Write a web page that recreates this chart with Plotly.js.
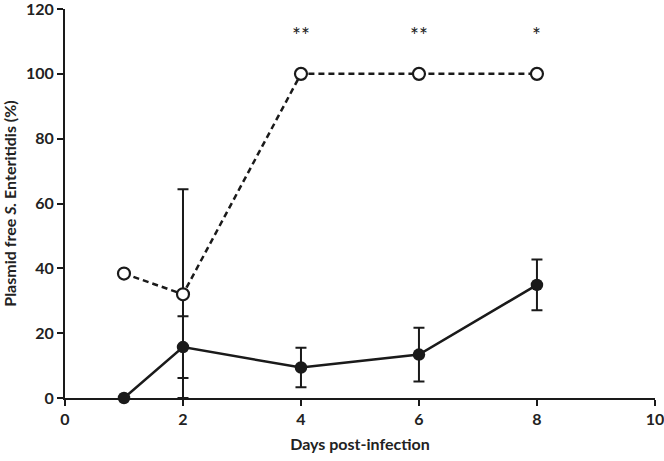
<!DOCTYPE html>
<html>
<head>
<meta charset="utf-8">
<script src="https://cdn.plot.ly/plotly-3.0.1.min.js"></script>
<style>html,body{margin:0;padding:0;background:#fff;}#chart{width:664px;height:461px;}</style>
</head>
<body>
<div id="chart"></div>
<script>
// Data
const daysFilled = [1, 2, 4, 6, 8];
const filledValues = [0, 15.7, 9.4, 13.4, 34.9];
const filledErr = [0, 9.5, 6.1, 8.3, 7.8];

const daysOpen = [1, 2, 4, 6, 8];
const openValues = [38.4, 32.0, 100, 100, 100];
const openErrPlus = [0, 32.4, 0, 0, 0];
const openErrMinus = [0, 32.0, 0, 0, 0];

const sigDays = [4, 6, 8];
const sigLabels = ['**', '**', '*'];
const sigLevel = 112;

const xTicks = [0, 2, 4, 6, 8, 10];
const yTicks = [0, 20, 40, 60, 80, 100, 120];

const font = 'Lato, "Open Sans", sans-serif';

const traces = [
  {
    x: daysOpen, y: openValues, type: 'scatter', mode: 'lines+markers',
    line: {color: '#1a1a1a', width: 2.5, dash: '6px,4px'},
    marker: {symbol: 'circle', size: 12, color: '#ffffff', line: {color: '#1a1a1a', width: 2.2}},
    error_y: {type: 'data', symmetric: false, array: openErrPlus, arrayminus: openErrMinus,
              color: '#1a1a1a', thickness: 2, width: 5.5},
    showlegend: false, cliponaxis: false
  },
  {
    x: daysFilled, y: filledValues, type: 'scatter', mode: 'lines+markers',
    line: {color: '#1a1a1a', width: 2.5},
    marker: {symbol: 'circle', size: 12.5, color: '#1a1a1a'},
    error_y: {type: 'data', array: filledErr, color: '#1a1a1a', thickness: 2, width: 5.5},
    showlegend: false, cliponaxis: false
  }
];

const annotations = sigDays.map((d, i) => ({
  x: d, y: sigLevel, xref: 'x', yref: 'y', text: sigLabels[i], showarrow: false,
  font: {family: font, size: 21, color: '#222'}
}));

const layout = {
  width: 664, height: 461,
  margin: {l: 65, r: 9, t: 9, b: 63},
  paper_bgcolor: '#fff', plot_bgcolor: '#fff',
  font: {family: font, color: '#222'},
  xaxis: {
    range: [0, 10.001], tickvals: xTicks, ticktext: xTicks.map(v => '<b>' + v + '</b>'),
    showgrid: false, zeroline: false, showline: true, linecolor: '#1a1a1a', linewidth: 2,
    ticks: 'outside', ticklen: 6, tickwidth: 2, tickcolor: '#1a1a1a',
    ticklabeloverflow: 'allow', automargin: false,
    tickfont: {family: font, size: 16, color: '#222'},
    title: {text: '<b>Days post-infection</b>', font: {family: font, size: 16, color: '#222'}, standoff: 12}
  },
  yaxis: {
    range: [0, 120.01], tickvals: yTicks, ticktext: yTicks.map(v => '<b>' + v + '</b>'),
    showgrid: false, zeroline: false, showline: true, linecolor: '#1a1a1a', linewidth: 2,
    ticks: 'outside', ticklen: 6, tickwidth: 2, tickcolor: '#1a1a1a',
    ticklabeloverflow: 'allow', automargin: false,
    tickfont: {family: font, size: 16, color: '#222'},
    title: {text: '<b>Plasmid free <i>S.</i> Enteritidis (%)</b>', font: {family: font, size: 16, color: '#222'}, standoff: 6}
  },
  annotations: annotations
};

Plotly.newPlot('chart', traces, layout, {displayModeBar: false, staticPlot: true});
</script>
</body>
</html>
